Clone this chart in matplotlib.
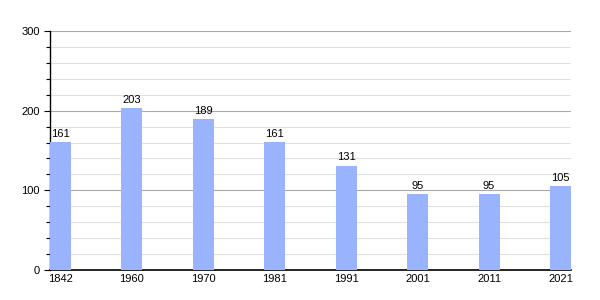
import numpy as np
import matplotlib
matplotlib.use('Agg')
import matplotlib.pyplot as plt
from matplotlib.ticker import MultipleLocator

years = ["1842", "1960", "1970", "1981", "1991", "2001", "2011", "2021"]
population = [161, 203, 189, 161, 131, 95, 95, 105]

plt.rcParams['font.family'] = ['Liberation Sans', 'DejaVu Sans']

fig = plt.figure(figsize=(6, 3), dpi=100)
ax = fig.add_axes([50 / 600, 0.1, 521 / 600, 239 / 300])

x = np.arange(len(years))
w = 0.294
bars = ax.bar(x, population, width=w, color='#99b3ff', zorder=3)
for xi, v in zip(x, population):
    ax.text(xi, v + 4, str(v), ha='center', va='bottom', fontsize=8, color='black')

ax.set_xlim(-w / 2, len(years) - 1 + w / 2)
ax.set_ylim(0, 300)
ax.set_xticks(x)
ax.set_xticklabels(years, fontsize=8)
ax.yaxis.set_major_locator(MultipleLocator(100))
ax.yaxis.set_minor_locator(MultipleLocator(20))
ax.tick_params(axis='y', which='major', labelsize=8, length=4, width=0.8)
ax.tick_params(axis='y', which='minor', length=3, width=0.8)
ax.tick_params(axis='x', length=0, pad=3)

ax.grid(axis='y', which='minor', color='#e0e0e0', linewidth=0.8, zorder=0)
ax.grid(axis='y', which='major', color='#a8a8a8', linewidth=0.8, zorder=1)

for s in ['top', 'right']:
    ax.spines[s].set_visible(False)
ax.spines['left'].set_linewidth(1)
ax.spines['bottom'].set_linewidth(1.2)

fig.savefig('out.png', dpi=100)
